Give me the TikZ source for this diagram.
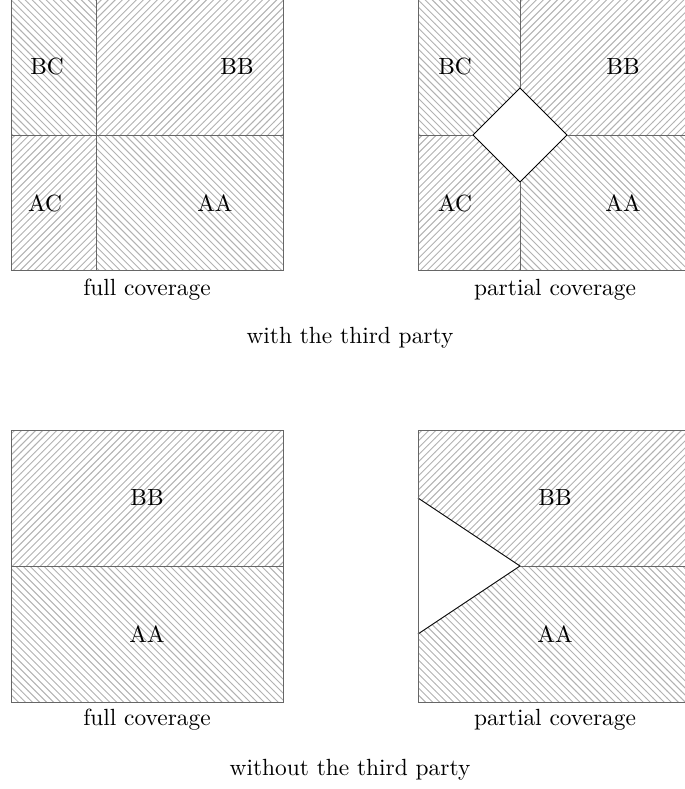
\documentclass[tikz,border=0pt]{standalone}
\usetikzlibrary{patterns}
\begin{document}
\begin{tikzpicture}[x=0.4274pt,y=-0.4274pt,
  ne/.style={pattern=north east lines,pattern color=gray!60},
  nw/.style={pattern=north west lines,pattern color=gray!60},
  edge/.style={draw=gray!80!black,line width=0.4pt},
  hole/.style={fill=white,draw=black,line width=0.4pt},
  lbl/.style={inner sep=0pt,font=\normalsize}]
\clip (0,0) rectangle (685,789);
% ---------- top left: full coverage, with third party
\fill[nw] (11,-2) rectangle (96,135);
\fill[ne] (96,-2) rectangle (283,135);
\fill[ne] (11,135) rectangle (96,270);
\fill[nw] (96,135) rectangle (283,270);
\draw[edge] (11,-2) rectangle (283,270);
\draw[edge] (96,-2) -- (96,270);
\draw[edge] (11,135) -- (283,135);
\node[lbl] (tlbc) at (47,67) {BC};
\node[lbl] (tlbb) at (237,67) {BB};
\node[lbl] (tlac) at (45,203) {AC};
\node[lbl] (tlaa) at (215,203) {AA};
\node[lbl] (tlcap) at (147,290) {full coverage};
% ---------- top right: partial coverage, with third party
\fill[nw] (418,-2) rectangle (520,135);
\fill[ne] (520,-2) rectangle (690,135);
\fill[ne] (418,135) rectangle (520,270);
\fill[nw] (520,135) rectangle (690,270);
\coordinate (dt) at (520,88);
\coordinate (dr) at (567,135);
\coordinate (db) at (520,182);
\coordinate (dl) at (473,135);
\draw[hole] (dt) -- (dr) -- (db) -- (dl) -- cycle;
\draw[edge] (418,-2) rectangle (690,270);
\draw[edge] (520,-2) -- (dt);
\draw[edge] (db) -- (520,270);
\draw[edge] (418,135) -- (dl);
\draw[edge] (dr) -- (690,135);
\node[lbl] (trbc) at (455,67) {BC};
\node[lbl] (trbb) at (623,67) {BB};
\node[lbl] (trac) at (455,203) {AC};
\node[lbl] (traa) at (623,203) {AA};
\node[lbl] (trcap) at (555,290) {partial coverage};
\node[lbl] (withcap) at (350,338) {with the third party};
% ---------- bottom left: full coverage, without third party
\fill[ne] (11,430) rectangle (283,566);
\fill[nw] (11,566) rectangle (283,702);
\draw[edge] (11,430) rectangle (283,702);
\draw[edge] (11,566) -- (283,566);
\node[lbl] (blbb) at (147,498) {BB};
\node[lbl] (blaa) at (147,634) {AA};
\node[lbl] (blcap) at (147,720) {full coverage};
% ---------- bottom right: partial coverage, without third party
\fill[ne] (418,430) rectangle (690,566);
\fill[nw] (418,566) rectangle (690,702);
\coordinate (tu) at (418,498);
\coordinate (ta) at (520,566);
\coordinate (tb) at (418,634);
\fill[white] (tu) -- (ta) -- (tb) -- cycle;
\draw[black,line width=0.4pt] (tu) -- (ta) -- (tb);
\draw[edge] (418,430) rectangle (690,702);
\draw[edge] (ta) -- (690,566);
\node[lbl] (brbb) at (555,498) {BB};
\node[lbl] (braa) at (555,634) {AA};
\node[lbl] (brcap) at (555,720) {partial coverage};
\node[lbl] (withoutcap) at (350,770) {without the third party};
\end{tikzpicture}
\end{document}
